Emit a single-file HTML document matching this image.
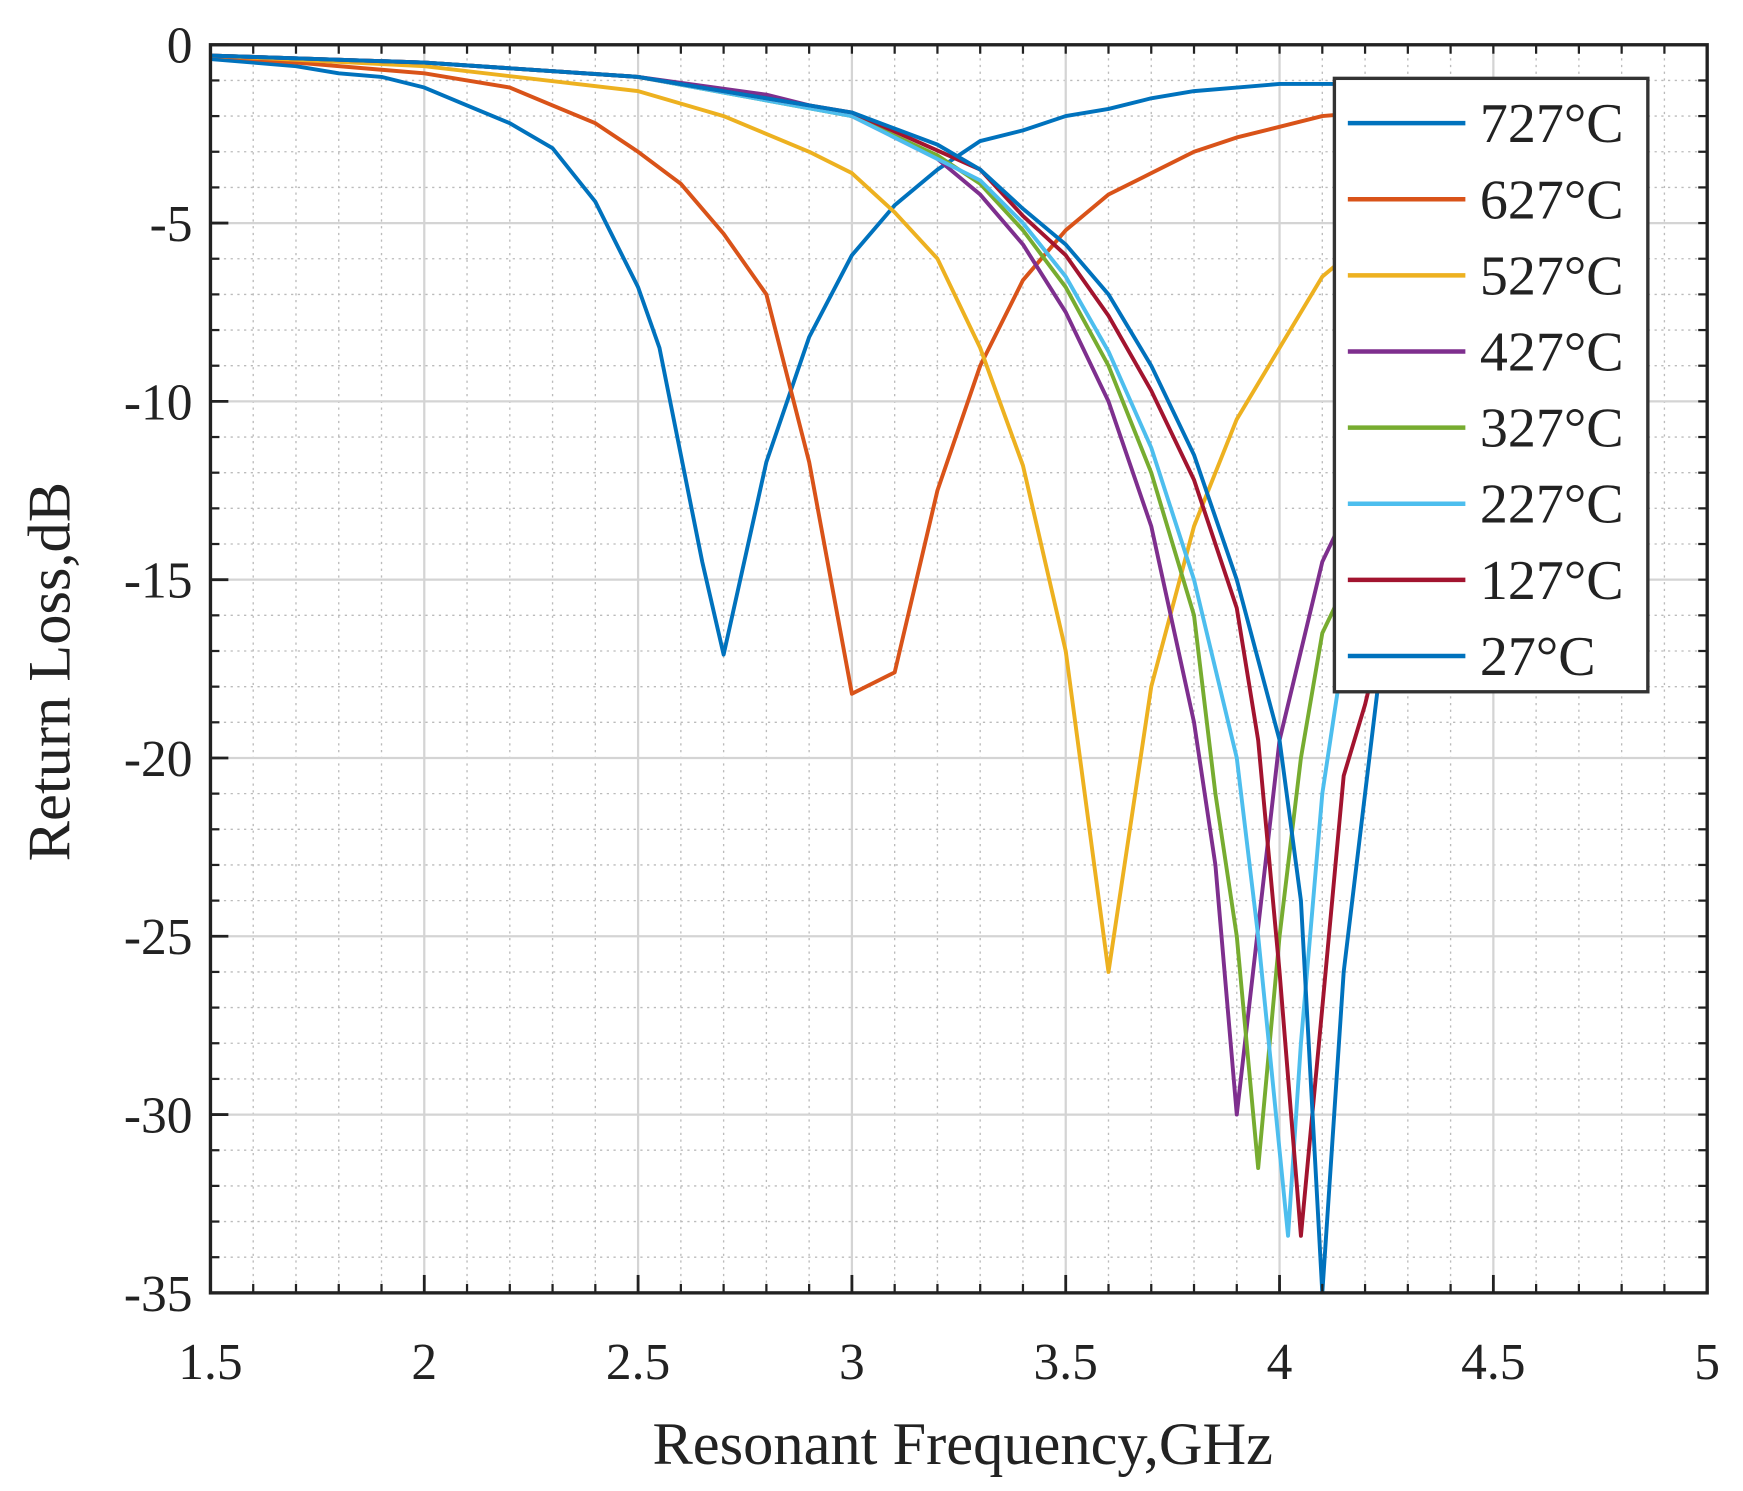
<!DOCTYPE html>
<html><head><meta charset="utf-8"><style>
html,body{margin:0;padding:0;background:#fff;}
svg{display:block;}
text{font-family:"Liberation Serif",serif;fill:#222;}
</style></head><body>
<svg id="chart" width="1743" height="1491" viewBox="0 0 1557 1332" preserveAspectRatio="none" xmlns="http://www.w3.org/2000/svg">
<defs><clipPath id="clip"><rect x="188" y="40" width="1337" height="1115"/></clipPath></defs>
<g id="grid"></g>
<g id="series" clip-path="url(#clip)"></g>
<g id="axes"></g>
<g id="legend"></g>
<text x="860" y="1308" font-size="54" text-anchor="middle">Resonant Frequency,GHz</text>
<text transform="translate(62,600) rotate(-90)" font-size="54" text-anchor="middle">Return Loss,dB</text>
</svg>
<script>
const xTicks=[1.5,2,2.5,3,3.5,4,4.5,5];
const xTickLabels=["1.5","2","2.5","3","3.5","4","4.5","5"];
const yTicks=[0,-5,-10,-15,-20,-25,-30,-35];
const yTickLabels=["0","-5","-10","-15","-20","-25","-30","-35"];
const seriesNames=["727°C","627°C","527°C","427°C","327°C","227°C","127°C","27°C"];
const seriesColors=["#0072BD","#D95319","#EDB120","#7E2F8E","#77AC30","#4DBEEE","#A2142F","#0072BD"];
const x727=[1.5,1.6,1.7,1.8,1.9,2.0,2.1,2.2,2.3,2.4,2.5,2.55,2.6,2.65,2.7,2.8,2.9,3.0,3.1,3.2,3.3,3.4,3.5,3.6,3.7,3.8,3.9,4.0,4.3,4.6,4.85];
const y727=[-0.4,-0.5,-0.6,-0.8,-0.9,-1.2,-1.7,-2.2,-2.9,-4.4,-6.8,-8.5,-11.5,-14.5,-17.1,-11.7,-8.2,-5.9,-4.5,-3.5,-2.7,-2.4,-2.0,-1.8,-1.5,-1.3,-1.2,-1.1,-1.1,-1.1,-1.2];
const x627=[1.5,1.7,1.9,2.0,2.1,2.2,2.3,2.4,2.5,2.6,2.7,2.8,2.9,3.0,3.1,3.2,3.3,3.4,3.5,3.6,3.7,3.8,3.9,4.0,4.1,4.3];
const y627=[-0.3,-0.5,-0.7,-0.8,-1.0,-1.2,-1.7,-2.2,-3.0,-3.9,-5.3,-7.0,-11.7,-18.2,-17.6,-12.5,-9.0,-6.6,-5.2,-4.2,-3.6,-3.0,-2.6,-2.3,-2.0,-1.8];
const x527=[1.5,2.0,2.5,2.7,2.9,3.0,3.1,3.2,3.3,3.4,3.5,3.6,3.7,3.8,3.9,4.0,4.1,4.2,4.3];
const y527=[-0.3,-0.6,-1.3,-2.0,-3.0,-3.6,-4.7,-6.0,-8.5,-11.8,-17,-26,-18,-13.5,-10.5,-8.5,-6.5,-5.5,-5.0];
const x427=[1.5,2.0,2.5,2.8,3.0,3.2,3.3,3.4,3.5,3.6,3.7,3.8,3.85,3.9,4.0,4.1,4.2];
const y427=[-0.3,-0.5,-0.9,-1.4,-2.0,-3.2,-4.2,-5.6,-7.5,-10,-13.5,-19,-23,-30,-19.5,-14.5,-12];
const x327=[1.5,2.0,2.5,3.0,3.2,3.3,3.4,3.5,3.6,3.7,3.8,3.85,3.9,3.95,4.0,4.05,4.1,4.2];
const y327=[-0.3,-0.5,-0.9,-2.0,-3.1,-3.9,-5.2,-6.8,-9.0,-12,-16,-21,-25,-31.5,-25,-20,-16.5,-14];
const x227=[1.5,2.0,2.5,3.0,3.3,3.4,3.5,3.6,3.7,3.8,3.9,3.95,4.0,4.02,4.05,4.1,4.15,4.2];
const y227=[-0.3,-0.5,-0.9,-2.0,-3.8,-5.0,-6.5,-8.6,-11.3,-15,-20,-25,-31,-33.4,-28,-21,-17,-15];
const x127=[1.5,2.0,2.5,3.0,3.3,3.4,3.5,3.6,3.7,3.8,3.9,3.95,4.0,4.05,4.1,4.15,4.2,4.25];
const y127=[-0.3,-0.5,-0.9,-1.9,-3.5,-4.8,-5.9,-7.6,-9.7,-12.2,-15.8,-19.5,-26,-33.4,-27,-20.5,-18.5,-16];
const x27=[1.5,2.0,2.5,3.0,3.2,3.3,3.4,3.5,3.6,3.7,3.8,3.9,4.0,4.05,4.1,4.15,4.2,4.23,4.3];
const y27=[-0.3,-0.5,-0.9,-1.9,-2.8,-3.5,-4.6,-5.6,-7.0,-9.0,-11.5,-15,-19.5,-24,-35,-26,-21,-18,-16];
const allX=[x727,x627,x527,x427,x327,x227,x127,x27];
const allY=[y727,y627,y527,y427,y327,y227,y127,y27];

const L=188,R=1525,T=40,B=1155;
const sx=v=>L+(v-1.5)/(5-1.5)*(R-L);
const sy=v=>T+(0-v)/35*(B-T);
const NS="http://www.w3.org/2000/svg";
function mk(tag,attrs,parent){const e=document.createElementNS(NS,tag);for(const k in attrs)e.setAttribute(k,attrs[k]);parent.appendChild(e);return e;}
const grid=document.getElementById('grid'),axes=document.getElementById('axes'),ser=document.getElementById('series'),leg=document.getElementById('legend');
for(let i=0;i<=35;i++){const v=1.5+i*0.1;const x=sx(v);
 const l=mk('line',{x1:x,x2:x,y1:T,y2:B,stroke:'#bbb','stroke-width':1.2,'stroke-dasharray':'2,4'},grid);
 
 const t1=mk('line',{x1:x,x2:x,y1:B,y2:B-8,stroke:'#222','stroke-width':2},axes);
 const t2=mk('line',{x1:x,x2:x,y1:T,y2:T+8,stroke:'#222','stroke-width':2},axes);}
for(let i=0;i<=35;i++){const y=sy(-i);
 const l=mk('line',{x1:L,x2:R,y1:y,y2:y,stroke:'#bbb','stroke-width':1.2,'stroke-dasharray':'2,4'},grid);
 
 const t1=mk('line',{x1:L,x2:L+8,y1:y,y2:y,stroke:'#222','stroke-width':2},axes);
 const t2=mk('line',{x1:R,x2:R-8,y1:y,y2:y,stroke:'#222','stroke-width':2},axes);}
xTicks.forEach((v,i)=>{const x=sx(v);
 const l=mk('line',{x1:x,x2:x,y1:T,y2:B,stroke:'#d4d4d4','stroke-width':2},grid);
 const t=mk('line',{x1:x,x2:x,y1:B,y2:B-16,stroke:'#222','stroke-width':2.5},axes);
 const tx=mk('text',{x:x,y:1232,'font-size':46,'text-anchor':'middle'},axes);tx.textContent=xTickLabels[i];
 });
yTicks.forEach((v,i)=>{const y=sy(v);
 const l=mk('line',{x1:L,x2:R,y1:y,y2:y,stroke:'#d4d4d4','stroke-width':2},grid);
 const t=mk('line',{x1:L,x2:L+16,y1:y,y2:y,stroke:'#222','stroke-width':2.5},axes);
 const tx=mk('text',{x:172,y:y+16,'font-size':46,'text-anchor':'end'},axes);tx.textContent=yTickLabels[i];
 });
const box=mk('rect',{x:L,y:T,width:R-L,height:B-T,fill:'none',stroke:'#222','stroke-width':3},axes);

allX.forEach((xs,s)=>{const pts=xs.map((v,i)=>sx(v).toFixed(1)+','+sy(allY[s][i]).toFixed(1)).join(' ');
 const p=mk('polyline',{points:pts,fill:'none',stroke:seriesColors[s],'stroke-width':3.5,'stroke-linejoin':'round'},ser);
 });
const lb=mk('rect',{x:1192,y:70,width:280,height:548,fill:'#fff',stroke:'#333','stroke-width':3},leg);

seriesNames.forEach((n,i)=>{const y=110+i*68;
 const l=mk('line',{x1:1204,x2:1309,y1:y,y2:y,stroke:seriesColors[i],'stroke-width':4},leg);
 
 const t=mk('text',{x:1322,y:y+17,'font-size':50},leg);t.textContent=n;
 });
</script>
</body></html>
